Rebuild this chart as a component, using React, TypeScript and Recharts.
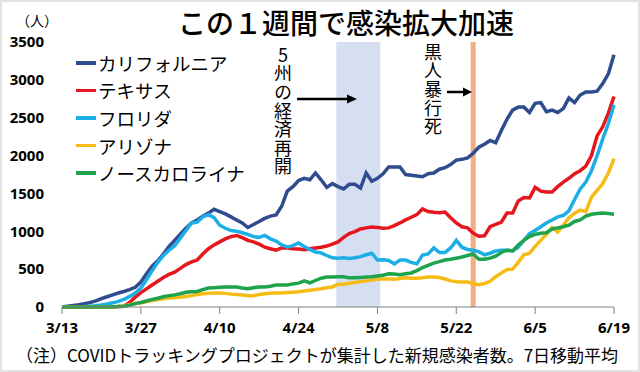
import { LineChart, Line, XAxis, YAxis, ReferenceArea, ReferenceLine } from "recharts";

// 3/13 からの日数
const tickDays = [0, 14, 28, 42, 56, 70, 84, 98];
const tickLabels = ["3/13", "3/27", "4/10", "4/24", "5/8", "5/22", "6/5", "6/19"];
const yTicks = [0, 500, 1000, 1500, 2000, 2500, 3000, 3500];

// 新規感染者数 7日移動平均（3/13〜6/19）
const california = [
  0, 10, 20, 30, 45, 60, 80, 110, 135, 160,
  185, 205, 230, 260, 330, 440, 540, 610, 700, 800,
  880, 960, 1040, 1110, 1150, 1200, 1240, 1290, 1260, 1230,
  1190, 1150, 1110, 1050, 1090, 1130, 1170, 1200, 1215, 1330,
  1530, 1590, 1670, 1700, 1680, 1770, 1680, 1580, 1630, 1590,
  1560, 1620, 1620, 1570, 1770, 1660, 1700, 1760, 1850, 1850,
  1850, 1750, 1740, 1730, 1720, 1760, 1770, 1820, 1840, 1880,
  1940, 1950, 1970, 2030, 2110, 2150, 2200, 2170, 2330, 2480,
  2600, 2640, 2640, 2570, 2690, 2700, 2580, 2600, 2570, 2620,
  2760, 2700, 2800, 2840, 2840, 2850, 2950, 3080, 3330,
];
const texas = [
  0, 0, 0, 0, 0, 0, 0, 0, 0, 0,
  5, 10, 60, 130, 190, 240, 290, 340, 390, 430,
  460, 510, 560, 595, 620, 700, 770, 820, 860, 900,
  930, 945, 915, 880, 860, 830, 790, 770, 750, 780,
  780, 770, 765, 755, 770, 780, 790, 805, 830, 860,
  920, 970, 995, 1030, 1045, 1055, 1050, 1040, 1045, 1075,
  1110, 1150, 1185, 1220, 1295, 1260, 1250, 1245, 1255, 1180,
  1110, 1060, 1045, 975, 935, 940, 1060, 1090, 1120, 1240,
  1240, 1400, 1445, 1440, 1580, 1530, 1520, 1520, 1590, 1650,
  1700, 1760, 1800, 1860, 2000, 2260, 2380, 2560, 2780,
];
const florida = [
  0, 0, 2, 4, 6, 10, 18, 28, 40, 55,
  75, 100, 140, 185, 250, 360, 480, 590, 680, 750,
  810, 910, 1010, 1110, 1120, 1190, 1220, 1180, 1080, 1040,
  1010, 1000, 980, 960, 930, 920, 945, 900, 870, 820,
  790, 810, 845, 800, 760, 725, 715, 680, 650, 645,
  650, 640, 650, 665, 690, 710, 620, 625, 615, 570,
  620, 620, 590, 570, 685, 700, 780, 720, 720, 780,
  880, 790, 760, 750, 730, 690, 710, 740, 750, 750,
  740, 790, 880, 970, 1010, 1060, 1110, 1150, 1190, 1210,
  1270, 1420, 1560, 1650, 1800, 2000, 2220, 2420, 2670,
];
const arizona = [
  0, 0, 0, 0, 0, 0, 0, 0, 0, 2,
  5, 15, 30, 45, 55, 70, 85, 100, 110, 120,
  125, 130, 140, 150, 165, 175, 180, 185, 185, 180,
  170, 165, 160, 150, 150, 165, 175, 180, 185, 185,
  190, 195, 200, 210, 220, 230, 240, 255, 265, 300,
  300, 315, 325, 335, 345, 355, 365, 370, 370, 365,
  375, 385, 380, 380, 385, 395, 395, 390, 370, 345,
  335, 330, 330, 310, 295, 310, 340, 400, 450, 495,
  500, 590, 690, 710, 800, 880, 960, 1050, 990, 1080,
  1180, 1240, 1280, 1260, 1450, 1540, 1630, 1770, 1960,
];
const northCarolina = [
  0, 0, 0, 0, 0, 0, 0, 0, 0, 2,
  5, 10, 25, 45, 60, 80, 100, 115, 135, 150,
  160, 175, 195, 200, 205, 230, 250, 255, 260, 265,
  265, 265, 250, 240, 255, 265, 265, 275, 290, 290,
  290, 305, 315, 345, 320, 350, 380, 395, 395, 400,
  400, 385, 385, 390, 395, 400, 410, 420, 440, 435,
  425, 440, 450, 480, 520, 550, 580, 600, 620, 630,
  645, 660, 680, 700, 630, 630, 645, 670, 720, 750,
  740, 820, 880, 930, 960, 975, 980, 1030, 1045, 1060,
  1080, 1130, 1150, 1200, 1225, 1235, 1240, 1235, 1225,
];

const reopenDays = [48.7, 56.5]; // 5州の経済再開
const floydDay = 73; // 5/25

const series = [
  { key: "ca", name: "カリフォルニア", color: "#2f4c8e", values: california },
  { key: "tx", name: "テキサス", color: "#e5161d", values: texas },
  { key: "fl", name: "フロリダ", color: "#1caee6", values: florida },
  { key: "az", name: "アリゾナ", color: "#f7bb16", values: arizona },
  { key: "nc", name: "ノースカロライナ", color: "#1ea34c", values: northCarolina },
];

const data = california.map((_, i) => {
  const row: Record<string, number> = { day: i };
  series.forEach((s) => { row[s.key] = s.values[i]; });
  return row;
});

const jp = '"Noto Sans CJK JP", "Noto Sans", sans-serif';
const num = '"Noto Sans", "Liberation Sans", sans-serif';

// 縦書きの注記
function Vertical({ text, x, y }: { text: string; x: number; y: number }) {
  return (
    <div style={{
      position: "absolute", left: x - 11, top: y, width: 22, fontSize: 18, lineHeight: "22px",
      letterSpacing: "0.6px", fontFamily: jp, writingMode: "vertical-rl", textOrientation: "upright",
    }}>
      {text}
    </div>
  );
}

export default function App() {
  return (
    <div style={{ position: "fixed", left: 0, top: 0, width: 640, height: 372, background: "#fff", color: "#000", overflow: "hidden" }}>
      <LineChart width={640} height={372} data={data} margin={{ top: 42, right: 26, bottom: 0, left: 0 }}>
        <ReferenceArea x1={reopenDays[0]} x2={reopenDays[1]} fill="#d6dff1" fillOpacity={1} stroke="none" />
        <ReferenceLine x={floydDay} stroke="#f2ad84" strokeWidth={5} />
        <XAxis type="number" dataKey="day" domain={[0, 98]} ticks={tickDays} interval={0}
          tickFormatter={(v: number) => tickLabels[tickDays.indexOf(v)]}
          height={65} stroke="#808080" tickSize={7} tickMargin={8}
          tick={{ fill: "#000", fontSize: 15, fontWeight: 700, fontFamily: num }} />
        <YAxis domain={[0, 3500]} ticks={yTicks} width={62} axisLine={false} tickLine={false}
          tickSize={0} tickMargin={18} interval={0}
          tick={{ fill: "#000", fontSize: 15, fontWeight: 700, fontFamily: num }} />
        {series.map((s) => (
          <Line key={s.key} dataKey={s.key} name={s.name} stroke={s.color} strokeWidth={3.5}
            dot={false} type="linear" isAnimationActive={false} />
        ))}
      </LineChart>

      <div style={{ position: "absolute", left: 0, top: 7, width: 692, textAlign: "center", fontSize: 28, lineHeight: "30px", fontFamily: jp, fontWeight: 500 }}>
        この１週間で感染拡大加速
      </div>
      <div style={{ position: "absolute", left: 16, top: 10, fontSize: 14, lineHeight: "20px", fontFamily: jp }}>（人）</div>

      <div style={{ position: "absolute", left: 76, top: 49 }}>
        {series.map((s) => (
          <div key={s.key} style={{ display: "flex", alignItems: "center", height: 27.6, fontFamily: jp, fontSize: 18.5 }}>
            <span style={{ display: "inline-block", width: 20, height: 3.5, background: s.color, marginRight: 2 }} />
            {s.name}
          </div>
        ))}
      </div>

      <Vertical text="5州の経済再開" x={283} y={46} />
      <Vertical text="黒人暴行死" x={433} y={43} />
      <svg style={{ position: "absolute", left: 0, top: 0 }} width={640} height={372}>
        <line x1={297} y1={99} x2={348} y2={99} stroke="#000" strokeWidth={2.5} />
        <polygon points="357,99 347,94.5 347,103.5" fill="#000" />
        <line x1={447} y1={92} x2={464} y2={92} stroke="#000" strokeWidth={2.5} />
        <polygon points="472,92 463,87.5 463,96.5" fill="#000" />
      </svg>

      <div style={{ position: "absolute", left: 16, top: 344, fontSize: 17, lineHeight: "22px", fontFamily: jp, whiteSpace: "nowrap" }}>
        （注）COVIDトラッキングプロジェクトが集計した新規感染者数。7日移動平均
      </div>
      <div style={{ position: "absolute", inset: 0, border: "2px solid #e2e2e2", pointerEvents: "none" }} />
    </div>
  );
}
